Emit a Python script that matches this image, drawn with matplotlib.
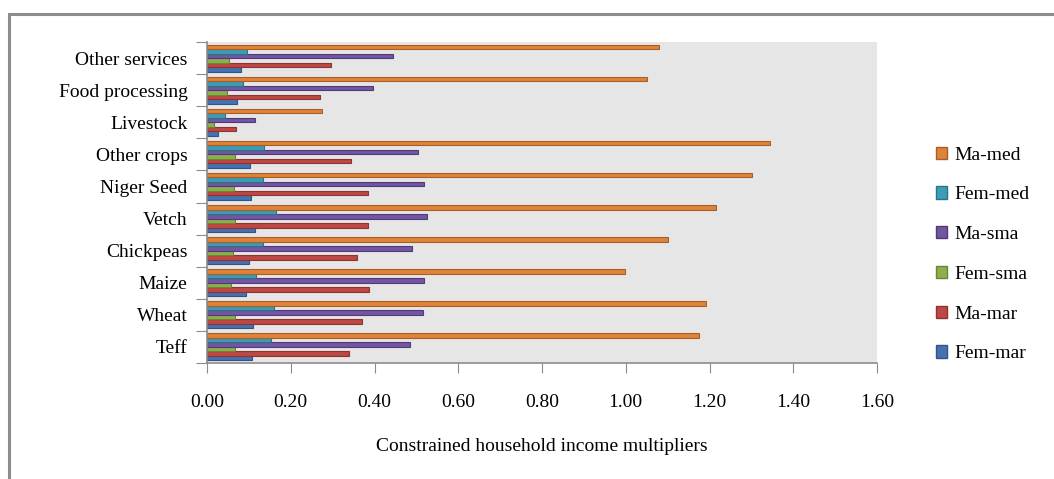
import numpy as np
import matplotlib.pyplot as plt
from matplotlib.patches import Patch, Rectangle

plt.rcParams['font.family'] = ['Liberation Serif', 'DejaVu Serif']

# Sectors, bottom to top on the chart
sectors = ['Teff', 'Wheat', 'Maize', 'Chickpeas', 'Vetch', 'Niger Seed',
           'Other crops', 'Livestock', 'Food processing', 'Other services']

# Household groups, drawn from the bottom of each group upwards
groups = ['Fem-mar', 'Ma-mar', 'Fem-sma', 'Ma-sma', 'Fem-med', 'Ma-med']

fem_mar = [0.108, 0.111, 0.093, 0.100, 0.114, 0.105, 0.102, 0.026, 0.071, 0.080]
ma_mar = [0.338, 0.371, 0.387, 0.359, 0.384, 0.384, 0.344, 0.069, 0.270, 0.295]
fem_sma = [0.066, 0.068, 0.057, 0.062, 0.068, 0.065, 0.066, 0.017, 0.047, 0.053]
ma_sma = [0.485, 0.515, 0.518, 0.490, 0.525, 0.518, 0.503, 0.115, 0.396, 0.445]
fem_med = [0.154, 0.160, 0.118, 0.133, 0.164, 0.133, 0.135, 0.044, 0.087, 0.096]
ma_med = [1.176, 1.192, 0.998, 1.100, 1.216, 1.301, 1.345, 0.274, 1.051, 1.079]

series = [fem_mar, ma_mar, fem_sma, ma_sma, fem_med, ma_med]
colors = ['#4673B0', '#BD4845', '#8FAF4C', '#7256A0', '#3D9CB6', '#DF823A']
edges = ['#2F5586', '#8E3331', '#6A8535', '#52397A', '#2A7488', '#A95E27']

fig = plt.figure(figsize=(10.54, 4.79), dpi=100)

# outer chart frame (only left and top edges show)
fig.patches.append(Rectangle((9 / 1054, -0.1), 1.2, 1 - 14 / 479 + 0.1,
                             transform=fig.transFigure, fill=False,
                             edgecolor='#8c8c8c', linewidth=2.2))

ax = fig.add_axes([207 / 1054, 1 - 363 / 479, 670 / 1054, 321 / 479])
ax.set_facecolor('#e6e6e6')

y = np.arange(len(sectors))
h = 0.14
for k, (vals, c, ec, lab) in enumerate(zip(series, colors, edges, groups)):
    ax.barh(y + (k - 2.5) * h, vals, height=h, color=c, edgecolor=ec,
            linewidth=0.8, label=lab)

ax.set_xlim(0, 1.6)
ax.set_ylim(-0.5, len(sectors) - 0.5)
ax.set_xticks(np.arange(0, 1.61, 0.2))
ax.set_xticklabels([f'{v:.2f}' for v in np.arange(0, 1.61, 0.2)], fontsize=14)
ax.set_yticks(np.arange(-0.5, len(sectors), 1.0))
ax.set_yticklabels([])
ax.set_yticks(y, minor=True)
ax.set_yticklabels(sectors, minor=True, fontsize=14)
ax.tick_params(axis='y', which='minor', length=0, pad=14)
ax.tick_params(axis='y', which='major', length=8, color='#8c8c8c')
ax.tick_params(axis='x', length=7, color='#8c8c8c', pad=15)

for s in ['top', 'right']:
    ax.spines[s].set_visible(False)
for s in ['left', 'bottom']:
    ax.spines[s].set_color('#8c8c8c')
    ax.spines[s].set_linewidth(1.2)

ax.set_xlabel('Constrained household income multipliers', fontsize=14,
              labelpad=20)

handles = [Patch(facecolor=c, edgecolor=ec, label=lab)
           for c, ec, lab in zip(colors, edges, groups)][::-1]
fig.legend(handles=handles, loc='upper left',
           bbox_to_anchor=(918 / 1054, 1 - 129 / 479), frameon=False,
           fontsize=14, handlelength=0.6, handleheight=0.6,
           handletextpad=0.35, labelspacing=1.17)

plt.savefig('out.png', dpi=100)
